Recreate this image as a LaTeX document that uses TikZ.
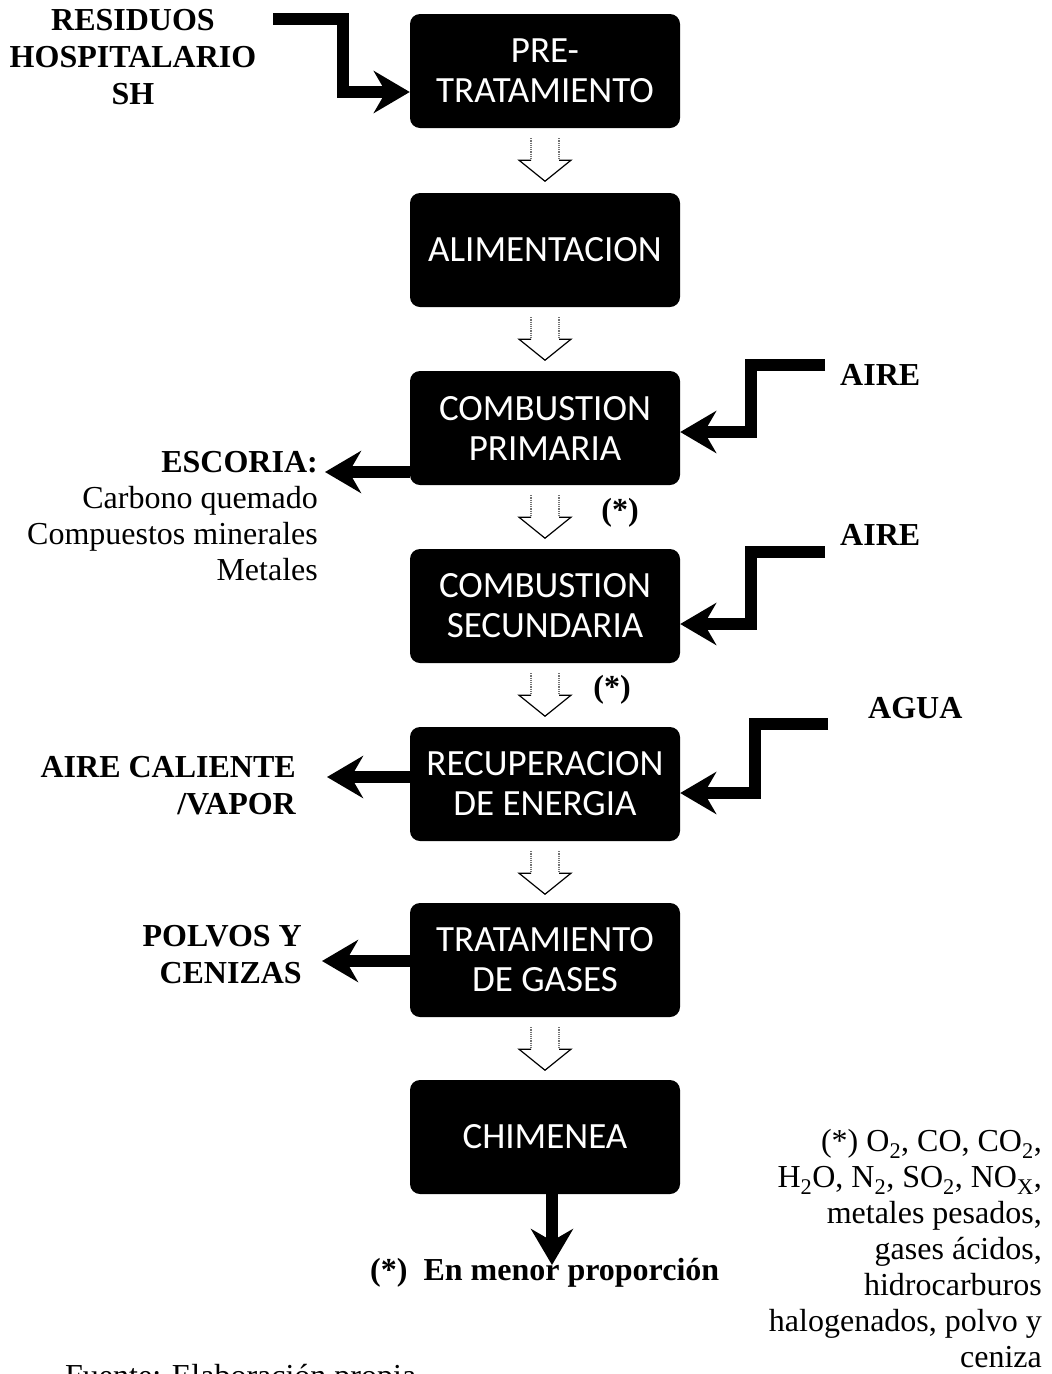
\documentclass[tikz,border=0pt]{standalone}
\usepackage{fontspec}
\setmainfont{Liberation Serif}
\newfontfamily\boxfont{Carlito}
\usetikzlibrary{arrows.meta}

\begin{document}
\begin{tikzpicture}[x=1pt,y=-1pt,
    proc/.style={fill=black,rounded corners=10pt,minimum width=270pt,minimum height=114pt,
      text=white,align=center,font=\boxfont\fontsize{37}{40}\selectfont},
    lbl/.style={inner sep=0pt,font=\bfseries\fontsize{32}{37}\selectfont},
    txt/.style={inner sep=0pt,font=\fontsize{32}{36}\selectfont},
    flow/.style={line width=12pt,line join=miter,-{Stealth[length=36pt,width=42pt,inset=12pt]}},
    hollow/.style={line width=1.2pt,line join=miter}]
  \useasboundingbox (0,0) rectangle (1052,1374);
  \clip (0,0) rectangle (1052,1374);

  % etapas
  \node (pre)   at (545,71)   [proc] {PRE-\\TRATAMIENTO};
  \node (alim)  at (545,250)  [proc] {ALIMENTACION};
  \node (prim)  at (545,428)  [proc] {COMBUSTION\\PRIMARIA};
  \node (sec)   at (545,606)  [proc] {COMBUSTION\\SECUNDARIA};
  \node (recup) at (545,784)  [proc] {RECUPERACION\\DE ENERGIA};
  \node (gases) at (545,960)  [proc] {TRATAMIENTO\\DE GASES};
  \node (chim)  at (545,1137) [proc] {CHIMENEA};

  % flechas huecas
  \foreach \a in {pre,alim,prim,sec,recup,gases}{
    \draw[hollow,densely dotted,black!55] ([shift={(-14pt,-10pt)}]\a.south) -- ++(0,22)
      ([shift={(14pt,-10pt)}]\a.south) -- ++(0,22);
    \draw[hollow] ([shift={(-14pt,-32pt)}]\a.south) -- ++(-12,0) -- ++(26,21) -- ++(26,-21) -- ++(-12,0);
  }

  % textos
  \node (residuos) at (133,57) [lbl,align=center] {RESIDUOS\\HOSPITALARIO\\SH};
  \node (aire1) at (840,375) [lbl,anchor=west] {AIRE};
  \node (aire2) at (840,535) [lbl,anchor=west] {AIRE};
  \node (agua)  at (868,708) [lbl,anchor=west] {AGUA};
  \node (escoria) at (318,516) [txt,anchor=east,align=right]
    {\textbf{ESCORIA:}\\Carbono quemado\\Compuestos minerales\\Metales};
  \node (caliente) at (296,786) [lbl,anchor=east,align=right] {AIRE CALIENTE\\/VAPOR};
  \node (polvos) at (302,955) [lbl,anchor=east,align=right] {POLVOS Y\\CENIZAS};
  \node (ast1) at (620,513) [lbl] {(*)};
  \node (ast2) at (612,690) [lbl] {(*)};
  \node (menor) at (370,1280) [lbl,anchor=base west] {(*)~~En menor proporción};
  \node (lista) at (1042,1249) [txt,anchor=east,align=right]
    {(*) O\textsubscript{2}, CO, CO\textsubscript{2},\\H\textsubscript{2}O, N\textsubscript{2}, SO\textsubscript{2}, NO\textsubscript{X},\\metales pesados,\\gases ácidos,\\hidrocarburos\\halogenados, polvo y\\ceniza};
  \node (fuente) at (65,1386) [txt,anchor=base west] {Fuente: Elaboración propia};

  % flechas de entrada
  \coordinate (resin) at (273,19);
  \coordinate (aire1in) at (825,365);
  \coordinate (aire2in) at (825,552);
  \coordinate (aguain) at (828,724);
  \draw[flow] (resin) -- (343,19) |- ([yshift=-21pt]pre.west);
  \draw[flow] (aire1in) -- (751,365) |- ([yshift=-4pt]prim.east);
  \draw[flow] (aire2in) -- (751,552) |- ([yshift=-18pt]sec.east);
  \draw[flow] (aguain) -- (755,724) |- ([yshift=-9pt]recup.east);

  % flechas de salida
  \coordinate (escout) at (325,472);
  \coordinate (calout) at (327,777);
  \coordinate (polout) at (322,961);
  \coordinate (chimout) at (552,1265);
  \draw[flow] (prim.west |- escout) -- (escout);
  \draw[flow] (recup.west |- calout) -- (calout);
  \draw[flow] (gases.west |- polout) -- (polout);
  \draw[flow] (chim.south -| chimout) -- (chimout);
\end{tikzpicture}
\end{document}
